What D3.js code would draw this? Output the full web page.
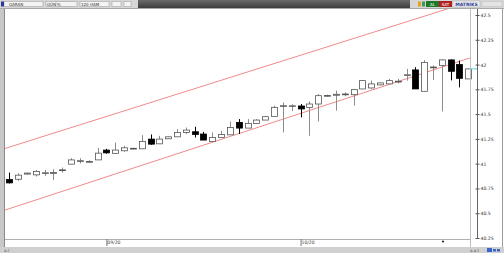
<!DOCTYPE html>
<html>
<head>
<meta charset="utf-8">
<script src="https://cdn.jsdelivr.net/npm/d3@7"></script>
<style>
  html, body { margin: 0; padding: 0; background: #fff; overflow: hidden; }
  svg { display: block; font-family: "DejaVu Sans", sans-serif; }
</style>
</head>
<body>
<svg id="chart" width="504" height="253"></svg>
<script>
// daily candles
const opens  = [40.84,40.843,40.895,40.887,40.905,40.908,40.935,40.995,41.025,41.02,41.038,41.137,41.104,41.13,41.15,41.15,41.248,41.20,41.251,41.271,41.315,41.322,41.299,41.224,41.264,41.291,41.416,41.359,41.406,41.44,41.477,41.58,41.582,41.582,41.568,41.602,41.684,41.69,41.70,41.696,41.754,41.764,41.795,41.805,41.83,41.895,41.946,41.73,41.97,41.99,42.047,42.0,41.855];
const highs  = [40.91,40.904,40.91,40.937,40.937,40.944,40.961,41.055,41.055,41.035,41.159,41.15,41.214,41.18,41.16,41.288,41.295,41.281,41.275,41.349,41.365,41.372,41.32,41.315,41.33,41.426,41.45,41.45,41.45,41.48,41.585,41.618,41.60,41.602,41.629,41.703,41.696,41.737,41.72,41.75,41.84,41.838,41.82,41.855,41.855,41.956,41.973,42.045,41.99,42.05,42.05,42.04,41.96];
const lows   = [40.80,40.826,40.89,40.87,40.877,40.836,40.91,40.995,41.003,41.01,41.038,41.10,41.10,41.12,41.145,41.15,41.19,41.20,41.25,41.27,41.299,41.264,41.238,41.224,41.264,41.291,41.299,41.359,41.406,41.44,41.477,41.315,41.53,41.467,41.281,41.426,41.676,41.534,41.68,41.585,41.754,41.754,41.79,41.805,41.81,41.838,41.754,41.73,41.845,41.527,41.84,41.77,41.855];
const closes = [40.806,40.884,40.905,40.92,40.908,40.91,40.938,41.038,41.03,41.022,41.106,41.109,41.137,41.16,41.155,41.224,41.197,41.248,41.271,41.315,41.339,41.295,41.238,41.264,41.295,41.365,41.359,41.406,41.44,41.474,41.568,41.585,41.584,41.552,41.602,41.686,41.688,41.70,41.703,41.747,41.838,41.805,41.815,41.838,41.832,41.897,41.754,42.02,41.975,42.047,41.932,41.861,41.956];

const priceTicks = [42.5, 42.25, 42, 41.75, 41.5, 41.25, 41, 40.75, 40.5, 40.25];
const dateTicks  = [11, 33];
const dateLabels = ["09/20", "10/20"];

// channel lines: [index, price] at both anchors
const channel = [
  [[0, 41.167], [52, 42.628]],
  [[0, 40.546], [52, 42.061]]
];

const svg = d3.select("#chart");
const W = 504, H = 253;
const plot = {left: 5, right: 471, top: 9, bottom: 239};

const x = d3.scaleLinear().domain([0, opens.length - 1]).range([9.3, 468.3]);
const y = d3.scaleLinear().domain([40.25, 42.5]).range([238, 15]);

// background pieces
svg.append("rect").attr("width", W).attr("height", H).attr("fill", "#fff");
svg.append("rect").attr("x", 0).attr("y", 0).attr("width", 4).attr("height", H).attr("fill", "#c8c8c8");
svg.append("line").attr("x1", 4.5).attr("x2", 4.5).attr("y1", 8).attr("y2", 247).attr("stroke", "#8a8a8a");
svg.append("line").attr("x1", 502.5).attr("x2", 502.5).attr("y1", 8).attr("y2", 247).attr("stroke", "#9a9a9a");

// toolbar
const bar = svg.append("g");
bar.append("rect").attr("width", W).attr("height", 8).attr("fill", "#d6d6d6");
const grad = svg.append("defs").append("linearGradient").attr("id", "dark").attr("x1", 0).attr("x2", 0).attr("y1", 0).attr("y2", 1);
grad.append("stop").attr("offset", 0).attr("stop-color", "#6a6a6a");
grad.append("stop").attr("offset", 1).attr("stop-color", "#3c3c3c");
bar.append("rect").attr("x", 138).attr("y", 0).attr("width", 272).attr("height", 8).attr("fill", "url(#dark)");
bar.append("line").attr("x1", 0).attr("x2", W).attr("y1", 8.5).attr("y2", 8.5).attr("stroke", "#a8a8a8");
const fields = [[4, 40], [46, 28], [56, 22], [80, 30], [112, 10], [124, 8]];
bar.selectAll("rect.f").data(fields).enter().append("rect").attr("class", "f")
  .attr("x", d => d[0]).attr("y", 1.5).attr("width", d => d[1] - 1).attr("height", 5)
  .attr("fill", "#f4f4f4").attr("stroke", "#9a9a9a").attr("stroke-width", 0.5);
bar.append("rect").attr("x", 1).attr("y", 1.5).attr("width", 3).attr("height", 5).attr("fill", "#2a3c9a");
bar.append("text").attr("x", 9).attr("y", 6).attr("font-size", 4).attr("fill", "#333").text("GARAN");
bar.append("text").attr("x", 47).attr("y", 6).attr("font-size", 4).attr("fill", "#333").text("GÜN");
bar.append("text").attr("x", 57).attr("y", 6).attr("font-size", 4).attr("fill", "#333").text("%");
bar.append("text").attr("x", 81).attr("y", 6).attr("font-size", 4).attr("fill", "#333").text("120 HAM");
bar.append("rect").attr("x", 418).attr("y", 1.5).attr("width", 3).attr("height", 5).attr("fill", "#e8a020");
bar.append("rect").attr("x", 422).attr("y", 1.5).attr("width", 3).attr("height", 5).attr("fill", "#3a9a5a");
bar.append("rect").attr("x", 426).attr("y", 1).attr("width", 13).attr("height", 6).attr("fill", "#1e7a2a");
bar.append("text").attr("x", 432.5).attr("y", 5.8).attr("text-anchor", "middle").attr("font-size", 4).attr("fill", "#fff").text("AL");
bar.append("rect").attr("x", 439).attr("y", 1).attr("width", 13).attr("height", 6).attr("fill", "#b02020");
bar.append("text").attr("x", 445.5).attr("y", 5.8).attr("text-anchor", "middle").attr("font-size", 4).attr("fill", "#fff").text("SAT");
bar.append("rect").attr("x", 453).attr("y", 1).attr("width", 27).attr("height", 6).attr("fill", "#eeeeee").attr("stroke", "#aaa").attr("stroke-width", 0.5);
bar.append("text").attr("x", 466.5).attr("y", 5.8).attr("text-anchor", "middle").attr("font-size", 4.5).attr("font-weight", "bold").attr("fill", "#2a3c9a").text("MATRIKS");
bar.append("rect").attr("x", 482).attr("y", 1.5).attr("width", 20).attr("height", 5).attr("fill", "#e4e4e4").attr("stroke", "#bbb").attr("stroke-width", 0.5);

// clip for channel lines
svg.append("clipPath").attr("id", "plotclip").append("rect")
  .attr("x", plot.left).attr("y", plot.top).attr("width", plot.right - plot.left).attr("height", plot.bottom - plot.top);

const lineGen = d3.line().x(d => x(d[0])).y(d => y(d[1]));
svg.append("g").attr("clip-path", "url(#plotclip)")
  .selectAll("path").data(channel).enter().append("path")
  .attr("d", d => {
    const s = (d[1][1] - d[0][1]) / (d[1][0] - d[0][0]);
    const i0 = x.invert(plot.left), i1 = x.invert(plot.right + 10);
    return lineGen([[i0, d[0][1] + s * (i0 - d[0][0])], [i1, d[0][1] + s * (i1 - d[0][0])]]);
  })
  .attr("fill", "none").attr("stroke", "#f28a8a").attr("stroke-width", 1);

// candles
const candles = svg.append("g").selectAll("g").data(opens).enter().append("g");
const up = i => closes[i] >= opens[i];
candles.append("line")
  .attr("x1", (d, i) => Math.round(x(i)) + 0.5).attr("x2", (d, i) => Math.round(x(i)) + 0.5)
  .attr("y1", (d, i) => y(highs[i])).attr("y2", (d, i) => y(lows[i]))
  .attr("stroke", (d, i) => up(i) ? "#8c8c8c" : "#000");
candles.append("rect")
  .attr("x", (d, i) => Math.round(x(i)) - 2.5)
  .attr("y", (d, i) => y(Math.max(opens[i], closes[i])))
  .attr("width", 6)
  .attr("height", (d, i) => Math.max(0.8, Math.abs(y(opens[i]) - y(closes[i]))))
  .attr("fill", (d, i) => up(i) ? "#fff" : "#000")
  .attr("stroke", (d, i) => up(i) ? "#555" : "#000")
  .attr("stroke-width", 0.8);

// last price marker
svg.append("line").attr("x1", 471).attr("x2", 477).attr("y1", y(closes[closes.length - 1])).attr("y2", y(closes[closes.length - 1]))
  .attr("stroke", "#4fd8e0").attr("stroke-width", 1);

// price axis
svg.append("line").attr("x1", 470.5).attr("x2", 470.5).attr("y1", plot.top).attr("y2", 247).attr("stroke", "#c0c0c0");
const yAxis = svg.append("g").attr("transform", "translate(477.5,0)")
  .call(d3.axisRight(y).tickValues(priceTicks).tickSize(2).tickFormat(d3.format("")));
yAxis.select(".domain").attr("d", `M0,${plot.top}V${plot.bottom}`).attr("stroke", "#666");
yAxis.selectAll(".tick line").attr("x1", -2).attr("x2", 2).attr("stroke", "#555");
yAxis.selectAll(".tick text").attr("x", 3).attr("font-size", 4.6).attr("fill", "#333").attr("font-family", "DejaVu Sans");

// date axis
svg.append("line").attr("x1", plot.left).attr("x2", 470).attr("y1", plot.bottom + 0.5).attr("y2", plot.bottom + 0.5).attr("stroke", "#b0b0b0");
const xAxis = svg.append("g").attr("transform", `translate(0,${plot.bottom})`)
  .call(d3.axisBottom(x).tickValues(dateTicks).tickSize(7).tickFormat((d, i) => dateLabels[i]));
xAxis.select(".domain").remove();
xAxis.selectAll(".tick line").attr("stroke", "#777");
xAxis.selectAll(".tick text").attr("x", 7).attr("y", 3).attr("dy", "0.5em").attr("font-size", 4.6).attr("fill", "#444").attr("font-family", "DejaVu Sans");
svg.append("circle").attr("cx", 443).attr("cy", 241.5).attr("r", 1).attr("fill", "#111");

// status strip
svg.append("rect").attr("x", 0).attr("y", 247).attr("width", W).attr("height", 6).attr("fill", "#d0d0d0");
svg.append("text").attr("x", 4).attr("y", 252).attr("font-size", 4).attr("fill", "#555").text("a.t");
svg.append("text").attr("x", 470).attr("y", 252).attr("font-size", 4).attr("fill", "#555").text("a.a.t");
svg.append("rect").attr("x", 487).attr("y", 248).attr("width", 5).attr("height", 4).attr("fill", "#3a64c8");
svg.append("rect").attr("x", 493).attr("y", 249).attr("width", 3).attr("height", 2.5).attr("fill", "#3a64c8");
svg.append("rect").attr("x", 497).attr("y", 249).attr("width", 3).attr("height", 2.5).attr("fill", "#3a64c8");
</script>
</body>
</html>
